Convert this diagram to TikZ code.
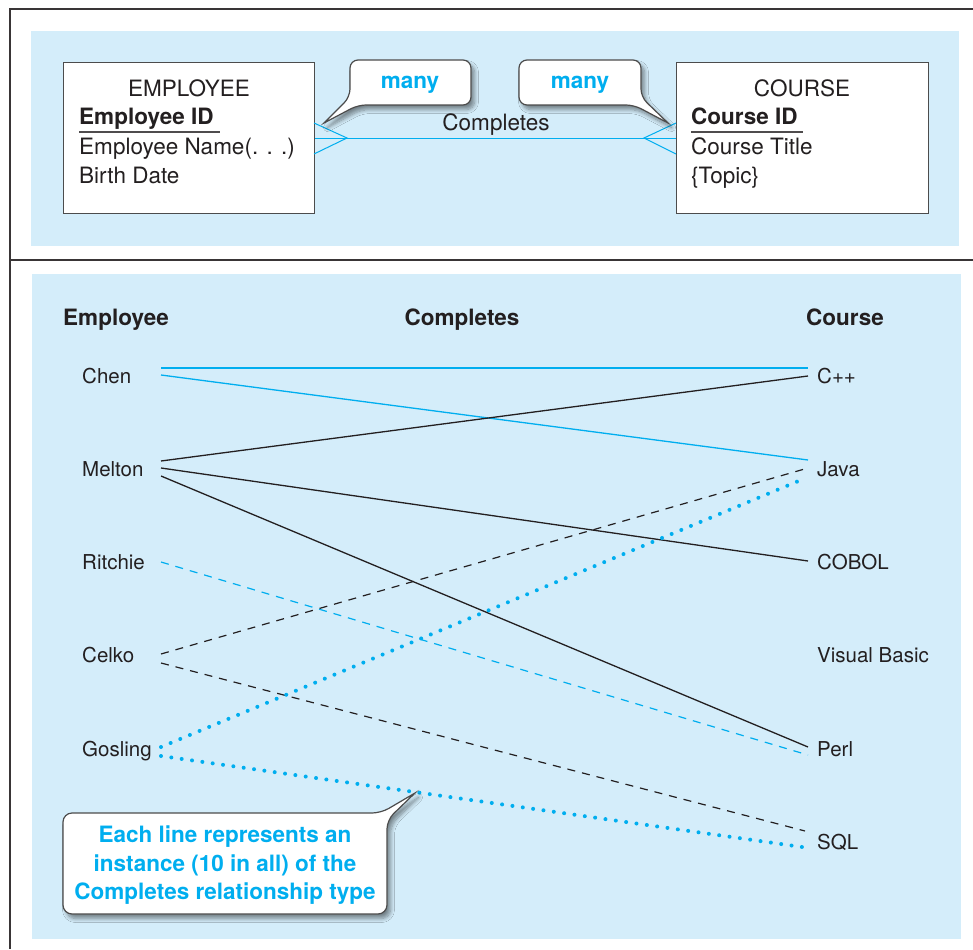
\documentclass[tikz,border=0pt]{standalone}
\usepackage{fontspec}
\setmainfont{TeX Gyre Heros}
\usetikzlibrary{shadows.blur}
\definecolor{cy}{RGB}{0,174,239}
\definecolor{bg}{RGB}{212,237,250}
\definecolor{ink}{RGB}{35,31,32}
\begin{document}
\begin{tikzpicture}[x=1pt,y=-1pt,
  frame/.style={draw=ink!90, line width=2pt},
  panel/.style={fill=bg, draw=none},
  entbox/.style={draw=black!70, fill=white, line width=1.2pt, inner sep=0, anchor=north west},
  rel/.style={draw=cy, line width=1pt},
  bubble/.style={draw=black!70, fill=white, line width=1.2pt,
     blur shadow={shadow xshift=3.5pt, shadow yshift=-4.5pt, shadow blur steps=8, shadow blur radius=4pt, shadow opacity=45}},
  attr/.style={anchor=base west, inner sep=0, font=\fontsize{22.5}{27}\selectfont, text=ink},
  lbl/.style={anchor=base west, inner sep=0, font=\fontsize{20.5}{24}\selectfont, text=ink},
  hdr/.style={anchor=base west, inner sep=0, font=\fontsize{22.5}{26}\selectfont\bfseries, text=ink},
  callt/.style={text=cy, font=\fontsize{22.5}{29}\selectfont\bfseries, inner sep=0, align=center},
  solidk/.style={draw=ink, line width=1.3pt},
  solidc/.style={draw=cy, line width=1.3pt},
  dashk/.style={draw=ink, line width=1.2pt, dash pattern=on 8pt off 7pt},
  dashc/.style={draw=cy, line width=1.2pt, dash pattern=on 8pt off 7pt},
  dotc/.style={draw=cy, line width=4pt, line cap=round, dash pattern=on 0pt off 10.44pt}
]
\useasboundingbox (0,0) rectangle (973,949);

% frame
\draw[frame] (973,9) -- (10,9) -- (10,949);
\draw[frame, line width=1.6pt] (10,260) -- (973,260);

% panels
\fill[panel] (31,31) rectangle (959,246);
\fill[panel] (32,274) rectangle (961,939);

% ---------- top: ER diagram ----------
\node[entbox, minimum width=251pt, minimum height=151pt] (emp) at (63,62) {};
\node[entbox, minimum width=252pt, minimum height=151pt] (crs) at (676,62) {};

\node[attr, anchor=base] (empT) at (189,97) {EMPLOYEE};
\node[attr, font=\fontsize{22.5}{27}\selectfont\bfseries] (empId) at (79,125) {Employee ID};
\draw[draw=ink!80, line width=1.3pt] (empId.base west) ++(0,7) -- ++(141,0);
\node[attr] (empNm) at (79,155) {Employee Name(. . .)};
\node[attr] (empBd) at (79,184) {Birth Date};

\node[attr, anchor=base] (crsT) at (802,97) {COURSE};
\node[attr, font=\fontsize{22.5}{27}\selectfont\bfseries] (crsId) at (691,125) {Course ID};
\draw[draw=ink!80, line width=1.3pt] (crsId.base west) ++(0,7) -- ++(112,0);
\node[attr] (crsTi) at (691,155) {Course Title};
\node[attr] (crsTo) at (691,184) {\{Topic\}};

% relationship line with crow's feet
\coordinate (eA) at (314,123);
\coordinate (eB) at (314,154);
\coordinate (eM) at (347,138);
\coordinate (cA) at (676,123);
\coordinate (cB) at (676,154);
\coordinate (cM) at (644,138);
\draw[rel] (emp.east) -- (crs.west);
\draw[rel] (eA) -- (eM) -- (eB);
\draw[rel] (cA) -- (cM) -- (cB);
\node[attr, anchor=base] (relT) at (496,131) {Completes};

% callouts "many"
\path[bubble] (324,123) [rounded corners=8pt] -- (350,97) -- (350,60) -- (471,60) -- (471,105) -- (358,105) [sharp corners] -- cycle;
\node[callt, anchor=base] (many1) at (410,89) {many};
\path[bubble] (668,123) [rounded corners=8pt] -- (634,105) -- (519,105) -- (519,60) -- (641,60) -- (641,97) [sharp corners] -- cycle;
\node[callt, anchor=base] (many2) at (580,89) {many};

% ---------- bottom: instances ----------
\node[hdr] (hE) at (63,325) {Employee};
\node[hdr, anchor=base] (hR) at (462,325) {Completes};
\node[hdr] (hC) at (806,325) {Course};

\node[lbl] (chen)    at (82,383) {Chen};
\node[lbl] (melton)  at (82,476) {Melton};
\node[lbl] (ritchie) at (82,569.5) {Ritchie};
\node[lbl] (celko)   at (82,662.5) {Celko};
\node[lbl] (gosling) at (82,756) {Gosling};

\node[lbl] (cpp)   at (817,383) {C++};
\node[lbl] (java)  at (817,476) {Java};
\node[lbl] (cobol) at (817,569.5) {COBOL};
\node[lbl] (vb)    at (817,662.5) {Visual Basic};
\node[lbl] (perl)  at (817,756) {Perl};
\node[lbl] (sql)   at (817,849) {SQL};

% endpoints
\coordinate (chen1) at (161,368);
\coordinate (chen2) at (161,375);
\coordinate (mel1) at (161,461);
\coordinate (mel2) at (161,468);
\coordinate (mel3) at (161,476);
\coordinate (rit1) at (161,562);
\coordinate (cel1) at (161,654);
\coordinate (cel2) at (161,663);
\coordinate (gos1) at (161,747);
\coordinate (gos2) at (161,756);

\coordinate (cpp1) at (808,368);
\coordinate (cpp2) at (808,376);
\coordinate (java1) at (808,460);
\coordinate (java2) at (808,468);
\coordinate (java3) at (801,480);
\coordinate (cob1) at (808,561);
\coordinate (perl1) at (808,747);
\coordinate (perl2) at (808,755);
\coordinate (sql1) at (805,831);
\coordinate (sql2) at (802,847);

\draw[solidc, line width=2pt] (chen1) -- (cpp1);
\draw[solidc] (chen2) -- (java1);
\draw[solidk] (mel1) -- (cpp2);
\draw[solidk] (mel2) -- (cob1);
\draw[solidk] (mel3) -- (perl1);
\draw[dashc] (rit1) -- (perl2);
\draw[dashk] (cel1) -- (java2);
\draw[dashk] (cel2) -- (sql1);
\draw[dotc] (gos1) -- (java3);
\draw[dotc] (gos2) -- (sql2);

% callout bottom
\path[bubble] (415,793) [rounded corners=9pt] -- (387,820) -- (387,914) -- (63,914) -- (63,813) -- (381,813) [sharp corners] -- cycle;
\node[callt, anchor=base] (note1) at (225,842) {Each line represents an};
\node[callt, anchor=base] (note2) at (225,871) {instance (10 in all) of the};
\node[callt, anchor=base] (note3) at (225,899.5) {Completes relationship type};

\end{tikzpicture}
\end{document}
